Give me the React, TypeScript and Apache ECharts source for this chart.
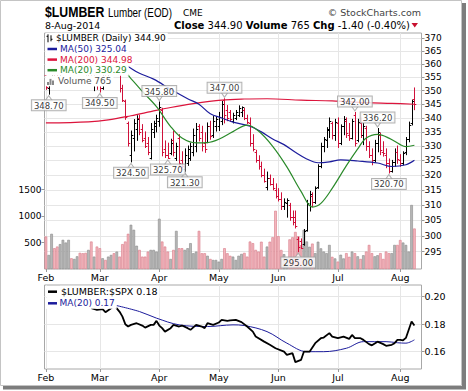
import React, { useEffect, useRef } from "react";
import * as echarts from "echarts";

// ---------- data ----------
const FEB_DAYS = [3, 4, 5, 6, 7, 10, 11, 12, 13, 14, 18, 19, 20, 21, 24, 25, 26, 27, 28];
const MAR_DAYS = [3, 4, 5, 6, 7, 10, 11, 12, 13, 14, 17, 18, 19, 20, 21, 24, 25, 26, 27, 28, 31];
const APR_DAYS = [1, 2, 3, 4, 7, 8, 9, 10, 11, 14, 15, 16, 17, 21, 22, 23, 24, 25, 28, 29, 30];
const MAY_DAYS = [1, 2, 5, 6, 7, 8, 9, 12, 13, 14, 15, 16, 19, 20, 21, 22, 23, 27, 28, 29, 30];
const JUN_DAYS = [2, 3, 4, 5, 6, 9, 10, 11, 12, 13, 16, 17, 18, 19, 20, 23, 24, 25, 26, 27, 30];
const JUL_DAYS = [1, 2, 3, 7, 8, 9, 10, 11, 14, 15, 16, 17, 18, 21, 22, 23, 24, 25, 28, 29, 30, 31];
const AUG_DAYS = [1, 4, 5, 6, 7, 8];
const PAD_DATES = ["Aug 11", "Aug 12"];

const OPEN = [
  356, 351, 353, 357, 355, 354, 357.5, 360, 361, 363, 361, 362, 364, 360, 357, 355, 357, 353, 354,
  352, 351, 355, 354, 360, 362, 360, 360, 351, 346, 338, 327, 333, 336, 340, 336, 333, 331, 326, 335, 337,
  339, 343, 329, 327, 327.5, 332, 326, 333, 325, 322, 324, 326, 328, 330, 337, 335, 331, 331.5, 337, 334, 337,
  337, 339, 346.5, 343, 342, 339, 340, 341, 342, 343, 340, 338, 331, 328, 325, 323, 320, 316, 319, 317, 315,
  313, 312, 309.5, 310.5, 310, 306, 306, 299, 298.5, 297.5, 302, 310, 313, 311, 316, 323, 330, 332, 335.5, 338, 334,
  338, 331, 337, 339, 334, 333, 341, 332, 338, 334, 336.5, 330, 327, 325, 331, 334, 328, 327, 324, 321.5, 324.5, 328,
  325, 324, 328, 332.5, 338, 347,
];
const HIGH = [
  357.5, 354, 358, 359, 357, 358.5, 361, 362.5, 364, 364.5, 363.5, 365.5, 365, 361, 358.5, 358, 357.5, 355.5, 355,
  353.5, 356, 357, 361, 363.5, 363, 362.5, 361, 352, 346.5, 338.5, 335.3, 339.4, 340.8, 341, 337.6, 335, 333, 338, 338.8, 341,
  345.8, 343.5, 331.8, 331, 332.4, 335.3, 331, 334, 328, 329, 330, 331, 336, 338, 337.6, 337, 334.7, 338.2, 338.8, 340.5, 340.5,
  342, 346, 347, 344.5, 342.7, 341.7, 342.7, 344.4, 344, 343.5, 341, 340, 334, 328.5, 326.6, 324.4, 322, 321, 320, 318.8, 317,
  315.4, 314, 312, 312, 310.5, 308, 308, 299.5, 299, 302, 311.5, 314.5, 314, 316, 323.5, 331, 333, 336.5, 340, 338.5, 339.5,
  340, 337.5, 340.5, 340, 338, 339.5, 342, 339.5, 340, 338, 337, 331.5, 329, 332, 336.2, 334.5, 331.5, 329, 325.5, 325, 329, 330,
  327, 328, 333, 338.5, 346.5, 351,
];
const LOW = [
  350.5, 348.7, 352, 354, 353, 353.5, 356.5, 358, 360, 360, 359.5, 361, 359.5, 356, 354, 354, 352, 350, 350.5,
  349.5, 350.5, 352, 353.5, 358, 358.5, 357, 349.5, 346, 339.5, 330, 324.5, 328.3, 332, 334, 331.5, 329.5, 327, 325.5, 333, 335,
  337, 326.6, 326, 325.7, 327, 326.6, 325, 322.7, 322.5, 321.3, 323.3, 325, 326.6, 328, 331.8, 328.3, 327.8, 331.2, 332.4, 333, 335.3,
  335.5, 337.6, 338.2, 339, 338.8, 338.2, 339.4, 340.5, 340.5, 339.4, 338, 330, 328.3, 324.4, 322, 319.4, 317.6, 315, 316.6, 315, 312.3,
  311.3, 308.5, 308.5, 306, 305, 303.5, 302.5, 295, 296, 297, 301.5, 308, 309.5, 310.5, 315.5, 322.5, 328, 329.5, 333, 332.5, 332,
  329.5, 330.5, 334, 333, 332, 332.5, 330, 331.5, 333, 330.5, 328.5, 326, 323.5, 324.5, 328, 327, 326.5, 322.5, 320.7, 321, 323, 324,
  323, 323.5, 327, 331.5, 337.5, 343,
];
const CLOSE = [
  351.5, 353, 357, 355, 354, 357.5, 360, 361, 363, 361, 362, 364, 360, 357, 355, 357, 353, 354, 352,
  351, 355, 354, 360, 362, 360, 361, 351, 346.5, 340.5, 331, 334, 338, 339.5, 335, 332, 330, 328, 336, 338, 340,
  344, 328, 327, 326, 331, 328, 330, 324, 323, 327, 329, 330, 334, 336, 333, 330, 329, 337, 333.5, 339, 339.5,
  340.5, 345, 341, 340, 339.5, 341, 342, 343.5, 343.8, 340, 338.5, 331, 329, 325, 323, 320, 318, 319, 317, 315.5, 313,
  312, 309.5, 311, 311.5, 306, 304.5, 303, 296.5, 296.2, 301.5, 310.5, 313.5, 311, 315.5, 323, 330, 332.5, 336, 339, 334, 338.5,
  331, 337, 339.5, 334.5, 333, 339, 331, 338.5, 334, 337, 330, 327, 325, 331, 335, 328.5, 327.5, 324, 321.5, 324.5, 328, 325.5,
  324, 327.5, 332.5, 337.5, 346.3, 344.9,
];
const PREV_CLOSE = 356;
const VOLUME = [
  614, 266, 665, 393, 424, 470, 551, 500, 551, 203, 190, 240, 305, 298, 305, 361, 519, 234, 424,
  393, 203, 171, 234, 266, 298, 329, 234, 470, 519, 665, 836, 741, 440, 361, 234, 234, 329, 361, 361, 329,
  950, 519, 424, 329, 190, 361, 720, 393, 393, 361, 393, 488, 298, 329, 720, 298, 298, 250, 190, 171, 171,
  139, 190, 393, 298, 250, 234, 171, 250, 285, 305, 234, 519, 488, 361, 329, 516, 234, 424, 516, 600, 1100,
  620, 360, 280, 200, 560, 600, 700, 620, 450, 740, 520, 420, 480, 300, 516, 390, 330, 300, 455, 230, 200,
  140, 270, 200, 300, 230, 330, 300, 240, 190, 260, 330, 455, 300, 240, 260, 300, 190, 330, 300, 300, 455, 455,
  548, 500, 455, 330, 1210, 765,
];

const MA20_PTS = [
  [0, 357.0], [15, 358.0], [27, 357.5], [30, 354.5], [34, 349.7], [39, 344.1], [44, 336.9], [48, 332.8], [53, 331.1],
  [57, 331.2], [61, 332.4], [66, 335.1], [71, 337.4], [75, 335.3], [80, 329.9], [85, 322.8], [90, 314.5], [94, 309.3],
  [97, 310.5], [101, 315.5], [106, 323.2], [110, 329.0], [113, 332.8], [117, 334.1], [121, 332.8], [125, 330.5],
  [127, 329.8], [130, 330.29],
];
const MA50_PTS = [
  [0, 363.0], [15, 362.0], [27, 360.0], [33, 356.5], [38, 354.3], [44, 350.5], [50, 347.0], [54, 345.0], [58, 341.5],
  [62, 340.0], [66, 338.5], [72, 337.0], [76, 335.0], [80, 332.5], [84, 330.5], [88, 327.8], [92, 325.5], [96, 324.2],
  [100, 324.5], [104, 325.2], [110, 324.8], [117, 324.1], [122, 322.9], [127, 323.5], [130, 325.04],
];
const MA200_PTS = [
  [0, 338.2], [15, 338.6], [22, 339.3], [30, 340.8], [37, 342.3], [44, 343.8], [52, 345.2], [62, 346.5], [70, 346.9],
  [78, 347.0], [90, 346.5], [101, 346.2], [113, 345.6], [122, 345.3], [130, 344.98],
];
const RATIO_PTS = [
  [16, 0.1916], [18, 0.1904], [20, 0.191], [21, 0.1887], [23, 0.1916], [24, 0.1935], [25, 0.1915], [26, 0.189],
  [27, 0.1855], [28, 0.18], [29, 0.1783], [30, 0.1795], [32, 0.1807], [34, 0.179], [35, 0.1775], [37, 0.1795],
  [38, 0.1795], [39, 0.1824], [40, 0.179], [41, 0.1771], [42, 0.1746], [44, 0.1771], [45, 0.1795], [47, 0.1783],
  [48, 0.179], [50, 0.1771], [51, 0.1759], [53, 0.1795], [55, 0.1783], [56, 0.1771], [57, 0.1807], [59, 0.1795],
  [61, 0.1812], [62, 0.1831], [64, 0.1824], [65, 0.1828], [67, 0.1831], [69, 0.1815], [71, 0.1783], [73, 0.1746],
  [74, 0.171], [77, 0.1673], [79, 0.165], [81, 0.1625], [84, 0.16], [85, 0.1577], [87, 0.1589], [88, 0.1524],
  [90, 0.154], [91, 0.16], [93, 0.16], [95, 0.1662], [97, 0.1698], [98, 0.1703], [100, 0.1735], [101, 0.171],
  [103, 0.1698], [105, 0.171], [107, 0.1693], [108, 0.1722], [109, 0.1698], [111, 0.1698], [112, 0.1686],
  [114, 0.1655], [115, 0.1646], [117, 0.1673], [119, 0.1655], [120, 0.1643], [122, 0.165], [123, 0.1662],
  [124, 0.1686], [125, 0.1686], [126, 0.1683], [127, 0.17], [128, 0.176], [129, 0.182], [130, 0.179],
];
const RATIO_MA20_PTS = [
  [24, 0.194], [33, 0.1892], [39, 0.1844], [47, 0.1795], [57, 0.1783], [66, 0.1795], [70, 0.179], [78, 0.1746],
  [85, 0.1662], [92, 0.16], [98, 0.16], [106, 0.1625], [112, 0.1673], [120, 0.1673], [124, 0.1665], [127, 0.1662],
  [130, 0.1686],
];

const PRICE_TICKS = [295, 300, 305, 310, 315, 320, 325, 330, 335, 340, 345, 350, 355, 360, 365, 370];
const VOLUME_TICKS = [500, 1000, 1500];
const RATIO_TICKS = [0.16, 0.18, 0.2];

// [index, price, side]
const ANNOTATIONS: [number, number, string][] = [
  [1, 348.7, "below"], [19, 349.5, "below"], [40, 345.8, "above"], [30, 324.5, "below"], [43, 325.7, "below"],
  [49, 321.3, "below"], [63, 347.0, "above"], [89, 295.0, "below"], [109, 342.0, "above"], [117, 336.2, "above"],
  [121, 320.7, "below"],
];

// ---------- layout ----------
const P_MIN = 289.6;
const P_MAX = 372.1;
const VOL_MAX = 4460;
const R_MIN = 0.1474;
const R_MAX = 0.2085;
const FONT = "'DejaVu Sans', Verdana, sans-serif";
const ARIAL = "'Liberation Sans', Arial, sans-serif";
const UP = "#000000";
const DOWN = "#d0103a";
const C_MA50 = "#1c1c9c";
const C_MA200 = "#dc143c";
const C_MA20 = "#2a8a2a";
const GRID_LINE = "#e6e6e6";

const MONTHS: [string, number[]][] = [
  ["Feb", FEB_DAYS], ["Mar", MAR_DAYS], ["Apr", APR_DAYS], ["May", MAY_DAYS],
  ["Jun", JUN_DAYS], ["Jul", JUL_DAYS], ["Aug", AUG_DAYS],
];
const DATES = MONTHS.flatMap(([m, ds]) => ds.map((d) => `${m} ${d}`));
const CATS = [...DATES, ...PAD_DATES];
const monthStart = (idx: number) =>
  idx < DATES.length && (idx === 0 || DATES[idx].split(" ")[0] !== DATES[idx - 1].split(" ")[0]);
const L = Math.log;

function xAxisFor(gridIndex: number) {
  return {
    type: "category",
    gridIndex,
    data: CATS,
    boundaryGap: true,
    axisLine: { show: false },
    axisTick: {
      show: true,
      interval: (i: number) => monthStart(i),
      alignWithLabel: true,
      length: 3,
      lineStyle: { color: "#999" },
    },
    axisLabel: {
      interval: (i: number) => monthStart(i),
      formatter: (v: string) => v.split(" ")[0],
      fontSize: 9.5,
      fontFamily: FONT,
      color: "#000",
      margin: 3,
    },
    splitLine: {
      show: true,
      interval: (i: number) => monthStart(i),
      alignWithLabel: true,
      lineStyle: { color: GRID_LINE, width: 1 },
    },
  };
}

function buildOption() {
  const isUp = CLOSE.map((c, i) => c >= (i === 0 ? PREV_CLOSE : CLOSE[i - 1]));
  const ohlcData = OPEN.map((o, i) => [i, L(o), L(HIGH[i]), L(LOW[i]), L(CLOSE[i]), isUp[i] ? 1 : 0]);

  const volData = VOLUME.map((v, i) => ({
    value: v,
    itemStyle: isUp[i]
      ? { color: "#b8b8b8", borderColor: "#8a8a8a", borderWidth: 0.6 }
      : { color: "#f2b6bd", borderColor: "#d97a88", borderWidth: 0.6 },
  }));

  const maLine = (name: string, pts: number[][], color: string) => ({
    name,
    type: "line",
    xAxisIndex: 0,
    yAxisIndex: 0,
    data: pts.map(([i, v]) => [i, L(v)]),
    showSymbol: false,
    smooth: 0.35,
    lineStyle: { color, width: 1.2 },
    z: 4,
    silent: true,
  });

  const annData = ANNOTATIONS.map(([i, p, side]) => ({
    value: [i, L(p), p],
    label: { position: side === "below" ? "bottom" : "top" },
  }));
  const ptrData = ANNOTATIONS.map(([i, p, side]) => ({
    value: [i, L(p)],
    symbolRotate: side === "below" ? 0 : 180,
    symbolOffset: side === "below" ? [0, 4] : [0, -4],
  }));

  const legendRows = [
    { y: 38.3, text: "$LUMBER (Daily) 344.90", color: "#000", x: 55, icon: "ohlc" },
    { y: 49, text: "MA(50) 325.04", color: C_MA50, x: 59, icon: "line" },
    { y: 59.6, text: "MA(200) 344.98", color: C_MA200, x: 59, icon: "line" },
    { y: 70.2, text: "MA(20) 330.29", color: C_MA20, x: 59, icon: "line" },
    { y: 80.9, text: "Volume 765", color: "#555", x: 57, icon: "vol" },
  ];
  const graphics: any[] = [];
  legendRows.forEach((r) => {
    graphics.push({
      type: "rect",
      z: 100,
      shape: { x: 45.5, y: r.y - 5.4, width: r.x - 45.5, height: 10.8 },
      style: { fill: "#fff" },
    });
    graphics.push({
      type: "text",
      z: 101,
      x: r.x,
      y: r.y,
      style: {
        text: r.text,
        fill: r.color,
        font: `9px ${FONT}`,
        verticalAlign: "middle",
        backgroundColor: "#fff",
        padding: [1, 2, 1, 1],
      },
    });
    if (r.icon === "line") {
      graphics.push({
        type: "line",
        z: 102,
        shape: { x1: 47.5, y1: r.y, x2: 57, y2: r.y },
        style: { stroke: r.color, lineWidth: 2.5 },
      });
    } else if (r.icon === "ohlc") {
      graphics.push({ type: "line", z: 102, shape: { x1: 48, y1: r.y - 4, x2: 48, y2: r.y + 4 }, style: { stroke: "#000", lineWidth: 1 } });
      graphics.push({ type: "line", z: 102, shape: { x1: 46.5, y1: r.y - 2, x2: 48, y2: r.y - 2 }, style: { stroke: "#000", lineWidth: 1 } });
      graphics.push({ type: "line", z: 102, shape: { x1: 51, y1: r.y - 3, x2: 51, y2: r.y + 3 }, style: { stroke: "#000", lineWidth: 1 } });
      graphics.push({ type: "line", z: 102, shape: { x1: 51, y1: r.y + 1, x2: 52.5, y2: r.y + 1 }, style: { stroke: "#000", lineWidth: 1 } });
    } else {
      [[47, 3], [49.5, 6], [52, 4.5]].forEach(([x, h]) => {
        graphics.push({
          type: "rect",
          z: 102,
          shape: { x, y: r.y + 4 - h, width: 2, height: h },
          style: { fill: "#888" },
        });
      });
    }
  });

  // lower panel legend
  [
    { y: 291.7, text: "$LUMBER:$SPX 0.18", color: "#000", x: 60 },
    { y: 303.3, text: "MA(20) 0.17", color: C_MA50, x: 58.5 },
  ].forEach((r, k) => {
    graphics.push({
      type: "rect",
      z: 100,
      shape: { x: 45.5, y: r.y - 5.5, width: r.x - 45.5, height: 11 },
      style: { fill: "#fff" },
    });
    graphics.push({
      type: "text",
      z: 101,
      x: r.x,
      y: r.y,
      style: {
        text: r.text,
        fill: r.color,
        font: `${k === 0 ? 9.5 : 9}px ${FONT}`,
        verticalAlign: "middle",
        backgroundColor: "#fff",
        padding: [1, 2, 1, 1],
      },
    });
    graphics.push({
      type: "line",
      z: 102,
      shape: { x1: 48, y1: r.y, x2: 57, y2: r.y },
      style: { stroke: r.color, lineWidth: 2.5 },
    });
  });

  // header
  graphics.push(
    { type: "text", z: 100, x: 45, y: 12.3, scaleX: 0.82, style: { text: "$LUMBER", font: `bold 15px ${ARIAL}`, fill: "#000", verticalAlign: "middle" } },
    { type: "text", z: 100, x: 108, y: 12.8, scaleX: 0.82, style: { text: "Lumber (EOD)", font: `12px ${ARIAL}`, fill: "#000", verticalAlign: "middle" } },
    { type: "text", z: 100, x: 183, y: 13, style: { text: "CME", font: `9px ${FONT}`, fill: "#000", verticalAlign: "middle" } },
    { type: "text", z: 100, x: 421, y: 12.7, style: { text: "© StockCharts.com", font: `9.5px ${FONT}`, fill: "#444", align: "right", verticalAlign: "middle" } },
    { type: "text", z: 100, x: 45, y: 25, style: { text: "8-Aug-2014", font: `9.5px ${FONT}`, fill: "#000", verticalAlign: "middle" } },
    {
      type: "text",
      z: 100,
      x: 410,
      y: 25,
      style: {
        text: "{b|Close} 344.90 {b|Volume} 765 {b|Chg} -1.40 (-0.40%)",
        font: `10px ${FONT}`,
        fill: "#000",
        align: "right",
        verticalAlign: "middle",
        rich: { b: { font: `bold 10px ${FONT}`, fill: "#000" } },
      },
    },
    { type: "polygon", z: 100, shape: { points: [[411.5, 23], [418, 23], [414.75, 27.5]] }, style: { fill: "#c8102e" } },
    // outer frame and shadow
    { type: "rect", z: 90, shape: { x: 0.5, y: 0.5, width: 461, height: 385 }, style: { fill: "none", stroke: "#c4c4c4", lineWidth: 1 } },
    { type: "rect", z: 90, shape: { x: 462, y: 3, width: 4, height: 386 }, style: { fill: "#7d7d7d" } },
    { type: "rect", z: 90, shape: { x: 3, y: 386, width: 463, height: 3.5 }, style: { fill: "#7d7d7d" } },
  );

  return {
    animation: false,
    backgroundColor: "#fff",
    grid: [
      { left: 44.5, right: 46.5, top: 33, height: 236, show: true, borderColor: "#a8a8a8", borderWidth: 1, backgroundColor: "#fff" },
      { left: 44.5, right: 46.5, top: 285, height: 84, show: true, borderColor: "#a8a8a8", borderWidth: 1, backgroundColor: "#fff" },
    ],
    xAxis: [xAxisFor(0), xAxisFor(1)],
    yAxis: [
      {
        type: "value",
        gridIndex: 0,
        position: "right",
        min: L(P_MIN),
        max: L(P_MAX),
        axisLine: { show: false },
        axisTick: { show: true, customValues: PRICE_TICKS.map(L), length: 3, lineStyle: { color: "#999" } },
        axisLabel: {
          customValues: PRICE_TICKS.map(L),
          formatter: (v: number) => String(Math.round(Math.exp(v))),
          fontSize: 9,
          fontFamily: FONT,
          color: "#000",
          margin: 3,
        },
        splitLine: { show: true, lineStyle: { color: GRID_LINE } },
      },
      {
        type: "value",
        gridIndex: 0,
        position: "left",
        min: 0,
        max: VOL_MAX,
        axisLine: { show: false },
        axisTick: { show: true, customValues: VOLUME_TICKS, length: 3, lineStyle: { color: "#999" } },
        axisLabel: {
          customValues: VOLUME_TICKS,
          formatter: (v: number) => String(Math.round(v)),
          fontSize: 9,
          fontFamily: FONT,
          color: "#000",
          margin: 3,
        },
        splitLine: { show: false },
      },
      {
        type: "value",
        gridIndex: 1,
        position: "right",
        min: R_MIN,
        max: R_MAX,
        axisLine: { show: false },
        axisTick: { show: true, customValues: RATIO_TICKS, length: 3, lineStyle: { color: "#999" } },
        axisLabel: {
          customValues: RATIO_TICKS,
          formatter: (v: number) => v.toFixed(2),
          fontSize: 9.5,
          fontFamily: FONT,
          color: "#000",
          margin: 3,
        },
        splitLine: { show: true, lineStyle: { color: GRID_LINE } },
      },
    ],
    graphic: graphics,
    series: [
      {
        name: "Volume",
        type: "bar",
        xAxisIndex: 0,
        yAxisIndex: 1,
        data: volData,
        barCategoryGap: "8%",
        z: 1,
        silent: true,
      },
      {
        name: "$LUMBER",
        type: "custom",
        xAxisIndex: 0,
        yAxisIndex: 0,
        data: ohlcData,
        encode: { x: 0, y: [1, 2, 3, 4] },
        z: 3,
        silent: true,
        renderItem: (_p: any, api: any) => {
          const i = api.value(0);
          const o = api.coord([i, api.value(1)]);
          const h = api.coord([i, api.value(2)]);
          const l = api.coord([i, api.value(3)]);
          const c = api.coord([i, api.value(4)]);
          const color = api.value(5) ? UP : DOWN;
          const x = Math.round(h[0]) + 0.5;
          const st = { stroke: color, lineWidth: 1 };
          return {
            type: "group",
            children: [
              { type: "line", shape: { x1: x, y1: h[1] - 0.5, x2: x, y2: l[1] + 0.5 }, style: st },
              { type: "line", shape: { x1: x - 1.8, y1: Math.round(o[1]) + 0.5, x2: x, y2: Math.round(o[1]) + 0.5 }, style: st },
              { type: "line", shape: { x1: x, y1: Math.round(c[1]) + 0.5, x2: x + 1.8, y2: Math.round(c[1]) + 0.5 }, style: st },
            ],
          };
        },
      },
      maLine("MA(200)", MA200_PTS, C_MA200),
      maLine("MA(50)", MA50_PTS, C_MA50),
      maLine("MA(20)", MA20_PTS, C_MA20),
      {
        name: "pointers",
        type: "scatter",
        xAxisIndex: 0,
        yAxisIndex: 0,
        data: ptrData,
        symbol: "triangle",
        symbolSize: [7, 5],
        itemStyle: { color: "#fff", borderColor: "#a0a0a0", borderWidth: 1 },
        z: 6,
        silent: true,
      },
      {
        name: "annotations",
        type: "scatter",
        xAxisIndex: 0,
        yAxisIndex: 0,
        data: annData,
        symbolSize: 0,
        z: 7,
        silent: true,
        label: {
          show: true,
          distance: 6,
          formatter: (p: any) => p.value[2].toFixed(2),
          fontSize: 8.5,
          fontFamily: FONT,
          color: "#000",
          backgroundColor: "#fff",
          borderColor: "#a0a0a0",
          borderWidth: 1,
          padding: [1, 2, 0, 2],
        },
      },
      {
        name: "$LUMBER:$SPX",
        type: "line",
        xAxisIndex: 1,
        yAxisIndex: 2,
        data: RATIO_PTS,
        showSymbol: false,
        lineStyle: { color: "#000", width: 1.8 },
        z: 4,
        silent: true,
      },
      {
        name: "MA(20) ratio",
        type: "line",
        xAxisIndex: 1,
        yAxisIndex: 2,
        data: RATIO_MA20_PTS,
        showSymbol: false,
        smooth: 0.35,
        lineStyle: { color: C_MA50, width: 1 },
        z: 3,
        silent: true,
      },
    ],
  };
}

export default function App() {
  const ref = useRef<HTMLDivElement>(null);
  useEffect(() => {
    if (!ref.current) return;
    const chart = echarts.init(ref.current, undefined, { renderer: "svg" });
    chart.setOption(buildOption() as any);
    return () => chart.dispose();
  }, []);
  return (
    <div
      ref={ref}
      style={{ position: "fixed", left: 0, top: 0, width: 468, height: 391, background: "#fff" }}
    />
  );
}
